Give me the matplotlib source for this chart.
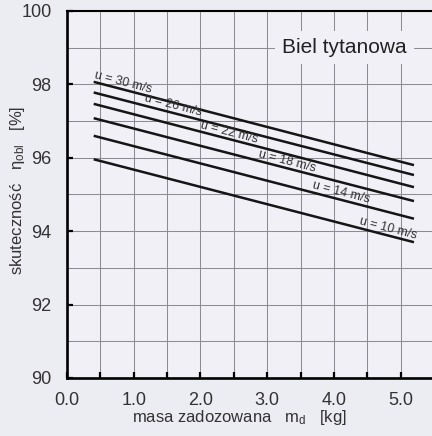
import numpy as np
import matplotlib.pyplot as plt
from matplotlib.ticker import MultipleLocator, FormatStrFormatter

plt.rcParams['font.family'] = ['Liberation Sans', 'DejaVu Sans']
plt.rcParams['mathtext.fontset'] = 'custom'
plt.rcParams['mathtext.rm'] = 'Liberation Sans'
plt.rcParams['mathtext.it'] = 'Liberation Sans:italic'

#### Dane ####

predkosc = [30, 26, 22, 18, 14, 10]          # u [m/s]
masa = [0.4, 5.2]                            # m_d [kg]
eta_poczatek = [98.07, 97.78, 97.47, 97.08, 96.60, 95.96]   # eta przy m_d = 0.4
eta_koniec = [95.80, 95.53, 95.20, 94.82, 94.34, 93.70]     # eta przy m_d = 5.2

# gdzie wzdluz osi x stoja opisy linii
opis_x = [0.81, 1.57, 2.41, 3.28, 4.09, 4.79]

#### Wykres ####

fig = plt.figure(figsize=(4.32, 4.36), dpi=100, facecolor='#ececf3')
ax = fig.add_axes([67/432, 58/436, 367/432, 367/436])
ax.set_facecolor('#f0f0f6')

ax.set_xlim(0, 5.5)
ax.set_ylim(90, 100)

ax.xaxis.set_major_locator(MultipleLocator(1.0))
ax.xaxis.set_minor_locator(MultipleLocator(0.5))
ax.yaxis.set_major_locator(MultipleLocator(2))
ax.yaxis.set_minor_locator(MultipleLocator(1))
ax.xaxis.set_major_formatter(FormatStrFormatter('%.1f'))

ax.grid(True, which='both', color='#8c8c94', lw=0.75, zorder=0)

ax.tick_params(axis='x', which='both', direction='in', length=4.5, width=1.6,
               top=False, pad=10, labelsize=13, labelcolor='#333333')
ax.tick_params(axis='y', which='major', direction='in', length=4.5, width=1.6,
               right=False, pad=11, labelsize=13, labelcolor='#333333')
ax.tick_params(axis='y', which='minor', length=0)

for s in ['left', 'bottom']:
    ax.spines[s].set_linewidth(1.9)
ax.spines['top'].set_linewidth(1.5)
ax.spines['right'].set_linewidth(1.5)

# linie skutecznosci
for i in range(len(predkosc)):
    ax.plot(masa, [eta_poczatek[i], eta_koniec[i]], color='#151515', lw=1.8,
            solid_capstyle='butt', zorder=3)

    # opis wzdluz linii
    x0 = opis_x[i]
    y0 = np.interp(x0, masa, [eta_poczatek[i], eta_koniec[i]])
    p1 = ax.transData.transform((masa[0], eta_poczatek[i]))
    p2 = ax.transData.transform((masa[1], eta_koniec[i]))
    kat = np.degrees(np.arctan2(p2[1] - p1[1], p2[0] - p1[0]))
    dx = -np.sin(np.radians(kat)) * 5.0
    dy = np.cos(np.radians(kat)) * 5.0
    ax.annotate('u = %d m/s' % predkosc[i], (x0, y0), xytext=(dx, dy),
                textcoords='offset points', rotation=kat, rotation_mode='anchor',
                ha='center', va='center', fontsize=9, color='#333333', zorder=4)

ax.text(4.16, 99.0, 'Biel tytanowa', fontsize=15, color='#222222',
        ha='center', va='center', zorder=5,
        bbox=dict(boxstyle='square,pad=0.35', fc='#f0f0f6', ec='none'))

ax.set_xlabel(r'masa zadozowana   m$_{\rm d}$   [kg]', fontsize=12, color='#333333')
ax.set_ylabel(r'skuteczność   η$_{\rm obl}$   [%]', fontsize=12, color='#333333')
ax.xaxis.set_label_coords(0.469, -0.082)
ax.yaxis.set_label_coords(-0.109, 0.512)

plt.savefig('out.png', dpi=100, facecolor=fig.get_facecolor())
